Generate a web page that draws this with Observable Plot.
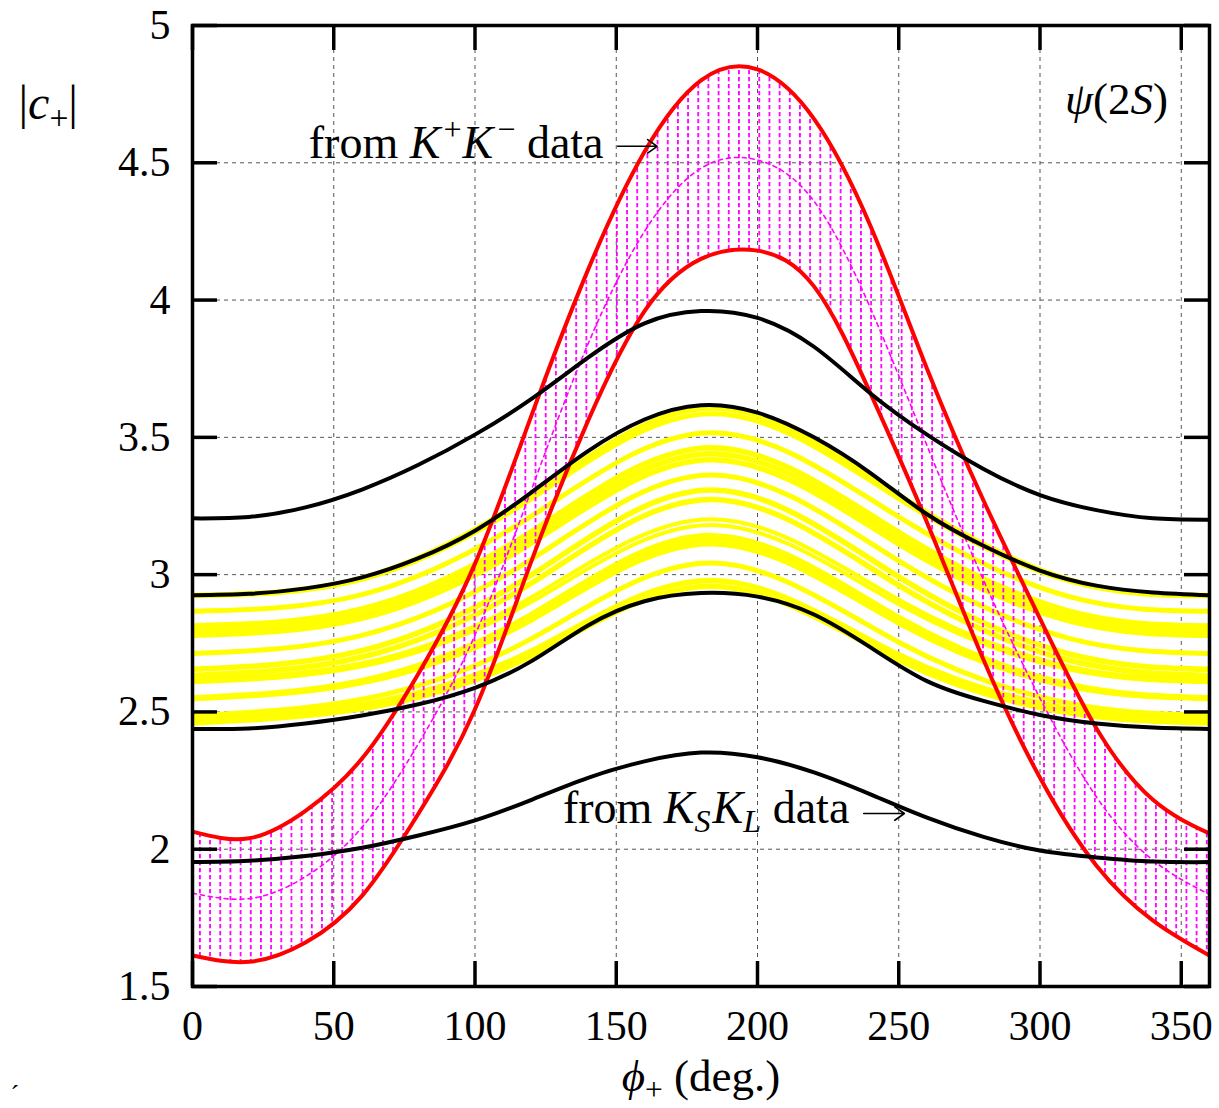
<!DOCTYPE html>
<html><head><meta charset="utf-8">
<script src="https://cdn.jsdelivr.net/npm/d3@7"></script>
<script src="https://cdn.jsdelivr.net/npm/@observablehq/plot@0.6"></script>
<style>body{margin:0;background:#fff;}</style>
</head><body><div id="chart"></div>
<script>
// ---- data ----
const phi = [0,20,40,60,80,100,120,140,160,180,200,220,240,260,280,300,320,340,360];
const redUpper = [2.064,2.04,2.14,2.33,2.64,3.04,3.58,4.11,4.54,4.80,4.84,4.66,4.27,3.75,3.27,2.84,2.44,2.18,2.057];
const redLower = [1.613,1.59,1.66,1.83,2.13,2.51,3.05,3.56,3.96,4.15,4.18,4.05,3.66,3.19,2.69,2.26,1.94,1.74,1.613];
const magentaMid = [1.84,1.82,1.90,2.08,2.385,2.78,3.31,3.84,4.25,4.48,4.51,4.36,3.97,3.47,2.98,2.55,2.19,1.96,1.835];
const black1 = [3.205,3.21,3.245,3.31,3.40,3.51,3.64,3.79,3.915,3.96,3.935,3.83,3.66,3.51,3.385,3.29,3.235,3.205,3.20];
const black2 = [2.925,2.93,2.95,2.99,3.06,3.16,3.30,3.45,3.565,3.617,3.59,3.50,3.37,3.22,3.105,3.015,2.96,2.935,2.925];
const black3 = [2.438,2.44,2.458,2.487,2.528,2.588,2.685,2.815,2.903,2.933,2.92,2.855,2.735,2.612,2.54,2.489,2.458,2.443,2.438];
const black4 = [1.953,1.958,1.975,2.005,2.05,2.105,2.18,2.26,2.32,2.352,2.335,2.28,2.20,2.115,2.045,1.995,1.97,1.955,1.953];

const phiY = [0,60,120,184,250,310,360];
const yH1 = [2.925,2.988,3.291,3.606,3.291,2.983,2.925];
const yH2 = [2.923,2.983,3.277,3.586,3.277,2.978,2.923];
const yA  = [2.867,2.927,3.213,3.517,3.210,2.921,2.867];
const yB1 = [2.813,2.875,3.157,3.462,3.154,2.868,2.813];
const yB2 = [2.796,2.858,3.136,3.440,3.132,2.850,2.796];
const yB3 = [2.779,2.841,3.116,3.418,3.112,2.833,2.779];
const yC  = [2.713,2.779,3.056,3.363,3.050,2.769,2.713];
const yD1 = [2.655,2.723,2.999,3.308,2.992,2.712,2.655];
const yD2 = [2.633,2.700,2.969,3.274,2.961,2.689,2.633];
const yD3 = [2.618,2.677,2.918,3.202,2.909,2.666,2.618];
const yD4 = [2.608,2.666,2.901,3.181,2.892,2.655,2.608];
const yE1 = [2.552,2.615,2.856,3.143,2.845,2.602,2.552];
const yE3 = [2.550,2.610,2.846,3.128,2.835,2.598,2.550];
const yE2 = [2.548,2.606,2.835,3.112,2.823,2.593,2.548];
const yF1 = [2.487,2.546,2.767,3.042,2.754,2.532,2.487];
const yF2 = [2.475,2.527,2.722,2.979,2.708,2.513,2.475];
const yF3 = [2.460,2.512,2.704,2.958,2.689,2.497,2.460];

const xTicks = [0,50,100,150,200,250,300,350];
const yTicks = [1.5,2,2.5,3,3.5,4,4.5,5];
const xGrid = [50,100,150,200,250,300,350];
const yGrid = [2,2.5,3,3.5,4,4.5];
const hatchStepDeg = 3.6;

// annotation anchors (data coordinates)
const noteKK = {x:145.5, y:4.519, ax1:150.5, ax2:164.5, ay:4.56};
const noteKSKL = {x:232.5, y:2.094, ax1:237.6, ax2:252, ay:2.13};

// ---- build ----
const FONT = "'Liberation Serif','Times New Roman',serif";
const rows = phi.map((p,i)=>({phi:p, A:redUpper[i], B:redLower[i], M:magentaMid[i]}));
const ser = (xs, ys) => xs.map((x,i)=>({x, y: ys[i]}));
const blacks = [black1, black2, black3, black4];
const yellows = [
  [yH1,5],[yH2,5],[yA,5],[yB1,5.5],[yB2,5.5],[yB3,5.5],[yC,5],
  [yD1,5.5],[yD2,5.5],[yD3,4],[yD4,4],[yE1,5],[yE3,5],[yE2,5],
  [yF1,5],[yF2,5.5],[yF3,5.5]
];
const arrows = [noteKK, noteKSKL].map(n => ({x1:n.ax1, x2:n.ax2, y:n.ay}));

const marks = [
  Plot.ruleX(xGrid, {stroke:"#555", strokeWidth:1, strokeDasharray:"4,4"}),
  Plot.ruleY(yGrid, {stroke:"#555", strokeWidth:1, strokeDasharray:"4,4"}),
  ...yellows.map(([ys,w]) => Plot.line(ser(phiY, ys), {x:"x", y:"y", curve:"natural", stroke:"#ffff00", strokeWidth:w, clip:true})),
  Plot.areaY(rows, {x:"phi", y1:"B", y2:"A", curve:"natural", fill:"url(#hatch)", clip:true}),
  Plot.line(rows, {x:"phi", y:"M", curve:"natural", stroke:"#ff00ff", strokeWidth:1.6, strokeDasharray:"4,4", clip:true}),
  Plot.line(rows, {x:"phi", y:"A", curve:"natural", stroke:"#ff0000", strokeWidth:4, clip:true}),
  Plot.line(rows, {x:"phi", y:"B", curve:"natural", stroke:"#ff0000", strokeWidth:4, clip:true}),
  ...blacks.map(ys => Plot.line(ser(phi, ys), {x:"x", y:"y", curve:"natural", stroke:"#000", strokeWidth:4, clip:true})),
  Plot.frame({stroke:"#000", strokeWidth:3.5}),
  Plot.ruleX(xTicks, {y1:1.5, y2:1.5, insetTop:-25, stroke:"#000", strokeWidth:3.5}),
  Plot.ruleX(xTicks, {y1:5, y2:5, insetBottom:-25, stroke:"#000", strokeWidth:3.5}),
  Plot.ruleY(yTicks, {x1:0, x2:0, insetRight:-25, stroke:"#000", strokeWidth:3.5}),
  Plot.ruleY(yTicks, {x1:360, x2:360, insetLeft:-25, stroke:"#000", strokeWidth:3.5}),
  Plot.axisX({ticks:xTicks, tickSize:0, tickPadding:24, fontSize:42, label:null, tickFormat:d=>String(d)}),
  Plot.axisY({ticks:yTicks, tickSize:0, tickPadding:22, fontSize:42, label:null, tickFormat:d=>String(d)}),
  Plot.arrow(arrows, {x1:"x1", x2:"x2", y1:"y", y2:"y", stroke:"#000", strokeWidth:1.6, headLength:11, headAngle:70}),
  Plot.text(["KPKM"], {x:noteKK.x, y:noteKK.y, textAnchor:"end", lineAnchor:"bottom", fontSize:46, fill:"#000"}),
  Plot.text(["KSKL"], {x:noteKSKL.x, y:noteKSKL.y, textAnchor:"end", lineAnchor:"bottom", fontSize:46, fill:"#000"}),
  Plot.text(["PSI2S"], {x:345.3, y:4.679, textAnchor:"end", lineAnchor:"bottom", fontSize:45, fill:"#000"}),
  Plot.text(["YLAB"], {frameAnchor:"top-left", dx:-174, dy:93, textAnchor:"start", lineAnchor:"bottom", fontSize:48, fill:"#000"}),
  Plot.text(["XLAB"], {frameAnchor:"bottom", dy:104, lineAnchor:"bottom", fontSize:45, fill:"#000"}),
  Plot.text(["´"], {frameAnchor:"bottom-left", dx:-182, dy:116, textAnchor:"start", lineAnchor:"bottom", fontSize:26, fill:"#000"})
];

const chart = Plot.plot({
  width:1219, height:1108,
  marginLeft:192, marginRight:10, marginTop:25, marginBottom:122,
  x:{domain:[0,360]},
  y:{domain:[1.5,5]},
  style:{fontFamily:FONT, background:"#fff", color:"#000", overflow:"visible"},
  marks
});

// hatch pattern (vertical dotted magenta lines), spacing from the x scale
const xs = chart.scale("x");
const step = xs.apply(hatchStepDeg) - xs.apply(0);
const svg = d3.select(chart);
const defs = svg.insert("defs", ":first-child");
const pat = defs.append("pattern").attr("id","hatch").attr("patternUnits","userSpaceOnUse")
  .attr("x", xs.apply(0) + 7).attr("y", 0).attr("width", step).attr("height", 7);
pat.append("rect").attr("x",0).attr("y",0).attr("width",1.8).attr("height",4.3).attr("fill","#ff00ff");

// rich text
function rich(key, parts, fs) {
  svg.selectAll("text").filter(function(){ return this.textContent === key; }).each(function(){
    const t = d3.select(this); t.text(null);
    for (const p of parts) {
      const s = t.append("tspan").text(p.t);
      if (p.i) s.attr("font-style","italic");
      if (p.dx) s.attr("dx", p.dx);
      if (p.sub) s.attr("baseline-shift", (-0.2*fs)+"px").attr("font-size", (0.7*fs)+"px");
      if (p.sup) s.attr("baseline-shift", (0.4*fs)+"px").attr("font-size", (0.7*fs)+"px");
    }
  });
}
rich("KPKM", [{t:"from "},{t:"K",i:1},{t:"+",sup:1,dx:3},{t:"K",i:1,dx:1},{t:"−",sup:1,dx:4},{t:" data"}], 46);
rich("KSKL", [{t:"from "},{t:"K",i:1},{t:"S",i:1,sub:1},{t:"K",i:1,dx:2},{t:"L",i:1,sub:1},{t:" data"}], 46);
rich("PSI2S", [{t:"ψ",i:1},{t:"(2"},{t:"S",i:1},{t:")"}], 45);
rich("YLAB", [{t:"|"},{t:"c",i:1},{t:"+",sub:1},{t:"|"}], 48);
rich("XLAB", [{t:"ϕ",i:1},{t:"+",sub:1},{t:" (deg.)"}], 45);

document.getElementById("chart").append(chart);
</script>
</body></html>
